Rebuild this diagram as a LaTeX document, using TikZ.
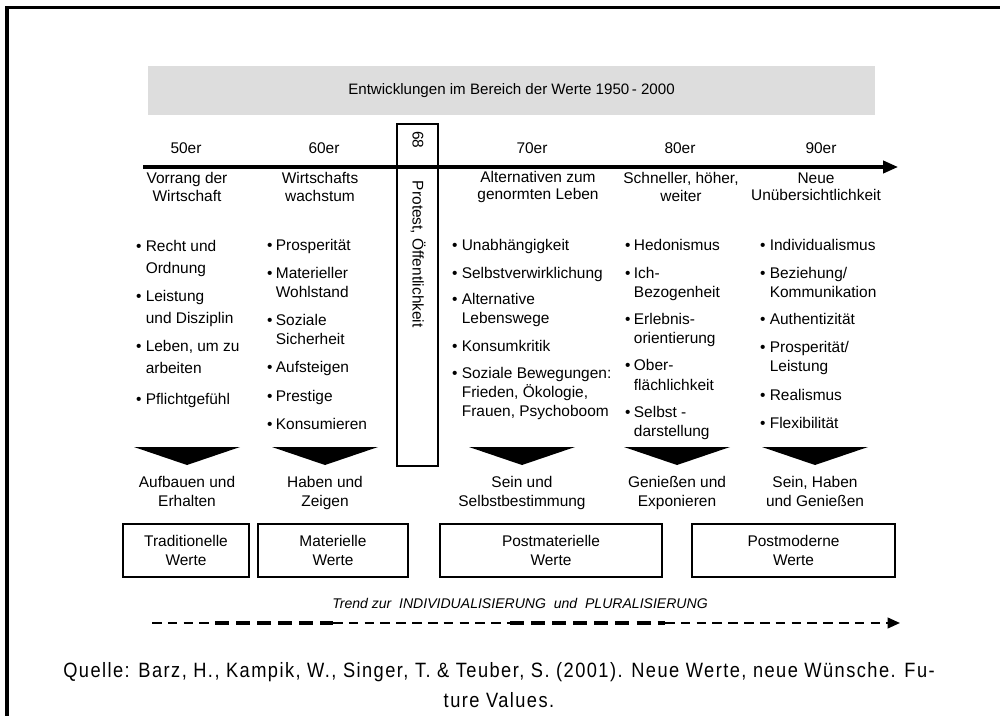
\documentclass[tikz,border=0pt]{standalone}
\usepackage{fontspec}
\setmainfont{Liberation Sans}
\newfontfamily\quellefont[FakeStretch=0.88,LetterSpace=7]{Liberation Sans}
\usepackage{tikz}
\usetikzlibrary{arrows.meta, positioning}
\definecolor{wvgray}{HTML}{DDDDDD}

\begin{document}
\begin{tikzpicture}[
  x=0.02cm, y=-0.02cm,
  every node/.style={inner sep=0pt, outer sep=0pt},
  txt/.style={font=\fontsize{8.8}{9.8}\selectfont, align=center},
  items/.style={anchor=base west, font=\fontsize{8.8}{11}\selectfont},
  wertbox/.style={draw, line width=0.9pt, align=center,
                  minimum height=1.06cm,
                  font=\fontsize{8.8}{10.4}\selectfont},
  zeitachse/.style={line width=1.8pt, -{Triangle[length=8.5pt, width=7pt]}},
  trendthin/.style={line width=1.2pt, dash pattern=on 5.5pt off 3.5pt},
  trendthick/.style={line width=2.3pt, dash pattern=on 8pt off 4pt}
]
  \useasboundingbox (0,0) rectangle (1000,716);
  \draw[line width=2pt] (1000,7.5) -- (7,7.5) -- (7,716);

  \node[fill=wvgray, minimum width=14.54cm, minimum height=0.98cm,
    font=\fontsize{8.6}{10}\selectfont] (titel) at (511.5,90.5)
    {Entwicklungen im Bereich der Werte 1950\,- 2000};

  \node[draw, line width=0.9pt, minimum width=0.82cm,
    minimum height=6.84cm] (b68) at (417.5,295) {};
  \node[txt, rotate=-90] (n68) at (418,140) {68};
  \node[txt, rotate=-90, anchor=west] (protest) at (418,181)
    {Protest, Öffentlichkeit};

  \coordinate (axs) at (143,167);
  \coordinate (axe) at (898,167);
  \draw[zeitachse] (axs) -- (axe);

  \node[txt] (d50) at (186,148) {50er};
  \node[txt] (d60) at (324,148) {60er};
  \node[txt] (d70) at (532,148) {70er};
  \node[txt] (d80) at (680,148) {80er};
  \node[txt] (d90) at (821,148) {90er};

  \node[txt] (h50) at (187,187) {Vorrang der\\Wirtschaft};
  \node[txt] (h60) at (320,187) {Wirtschafts\\wachstum};
  \node[txt] (h70) at (538,187) {Alternativen zum\\genormten Leben};
  \node[txt] (h80) at (681,187) {Schneller, höher,\\weiter};
  \node[txt] (h90) at (816,187) {Neue\\Unübersichtlichkeit};

  \node[items, font=\fontsize{8.8}{12.4}\selectfont] (w50) at (136,252)
    {\begin{tabular}[t]{@{}l@{\hspace{2.5pt}}l@{}}
     \textbullet & Recht und\\ & Ordnung\\[3.5pt]
     \textbullet & Leistung\\ & und Disziplin\\[3.5pt]
     \textbullet & Leben, um zu\\ & arbeiten\\[5.2pt]
     \textbullet & Pflichtgefühl
     \end{tabular}};
  \node[items] (w60) at (267,250)
    {\begin{tabular}[t]{@{}l@{\hspace{2pt}}l@{}}
     \textbullet & Prosperität\\[5pt]
     \textbullet & Materieller\\ & Wohlstand\\[5pt]
     \textbullet & Soziale\\ & Sicherheit\\[5pt]
     \textbullet & Aufsteigen\\[5pt]
     \textbullet & Prestige\\[5pt]
     \textbullet & Konsumieren
     \end{tabular}};
  \node[items] (w70) at (452,250)
    {\begin{tabular}[t]{@{}l@{\hspace{2.5pt}}l@{}}
     \textbullet & Unabhängigkeit\\[5pt]
     \textbullet & Selbstverwirklichung\\[4pt]
     \textbullet & Alternative\\ & Lebenswege\\[5pt]
     \textbullet & Konsumkritik\\[4pt]
     \textbullet & Soziale Bewegungen:\\ & Frieden, Ökologie,\\
                 & Frauen, Psychoboom
     \end{tabular}};
  \node[items] (w80) at (625,250)
    {\begin{tabular}[t]{@{}l@{\hspace{2pt}}l@{}}
     \textbullet & Hedonismus\\[5pt]
     \textbullet & Ich-\\ & Bezogenheit\\[4.4pt]
     \textbullet & Erlebnis-\\ & orientierung\\[4.4pt]
     \textbullet & Ober-\\ & flächlichkeit\\[4.4pt]
     \textbullet & Selbst -\\ & darstellung
     \end{tabular}};
  \node[items] (w90) at (760,250)
    {\begin{tabular}[t]{@{}l@{\hspace{2.5pt}}l@{}}
     \textbullet & Individualismus\\[5pt]
     \textbullet & Beziehung/\\ & Kommunikation\\[4.4pt]
     \textbullet & Authentizität\\[5pt]
     \textbullet & Prosperität/\\ & Leistung\\[5pt]
     \textbullet & Realismus\\[5pt]
     \textbullet & Flexibilität
     \end{tabular}};

  \foreach \cx/\nm in {187/50, 325/60, 522/70, 677/80, 815/90} {
    \fill (\cx-53,447) -- (\cx+53,447) -- (\cx,465) -- cycle;
    \coordinate (tip\nm) at (\cx,465);
  }

  \node[txt, font=\fontsize{8.8}{11.2}\selectfont, below=0.22cm of tip50] (o50)
    {Aufbauen und\\Erhalten};
  \node[txt, font=\fontsize{8.8}{11.2}\selectfont, below=0.22cm of tip60] (o60)
    {Haben und\\Zeigen};
  \node[txt, font=\fontsize{8.8}{11.2}\selectfont, below=0.22cm of tip70] (o70)
    {Sein und\\Selbstbestimmung};
  \node[txt, font=\fontsize{8.8}{11.2}\selectfont, below=0.22cm of tip80] (o80)
    {Genießen und\\Exponieren};
  \node[txt, font=\fontsize{8.8}{11.2}\selectfont, below=0.22cm of tip90] (o90)
    {Sein, Haben\\und Genießen};

  \node[wertbox, minimum width=2.52cm] (trad) at (186,550.5)
    {Traditionelle\\Werte};
  \node[wertbox, minimum width=3.0cm] (mat) at (333,550.5)
    {Materielle\\Werte};
  \node[wertbox, minimum width=4.44cm] (postmat) at (551,550.5)
    {Postmaterielle\\Werte};
  \node[wertbox, minimum width=4.06cm] (postmod) at (793.5,550.5)
    {Postmoderne\\Werte};

  \node[font=\fontsize{8}{10}\selectfont\itshape] (trend) at (520,603)
    {Trend zur\ \ INDIVIDUALISIERUNG\ \ und\ \ PLURALISIERUNG};
  \coordinate (tr0) at (152,623);
  \coordinate (tr1) at (215,623);
  \coordinate (tr2) at (333,623);
  \coordinate (tr3) at (510,623);
  \coordinate (tr4) at (665,623);
  \coordinate (tr5) at (900,623);
  \draw[trendthin] (tr0) -- (tr1);
  \draw[trendthick] (tr1) -- (tr2);
  \draw[trendthin] (tr2) -- (tr3);
  \draw[trendthick] (tr3) -- (tr4);
  \draw[trendthin, -{Triangle[length=7pt, width=6pt]}] (tr4) -- (tr5);

  \node[align=center, font=\quellefont\fontsize{11.8}{17}\selectfont]
    (quelle) at (499,685)
    {Quelle: Barz, H., Kampik, W., Singer, T. \& Teuber, S. (2001). Neue Werte, neue Wünsche. Fu-\\
     ture Values.};
\end{tikzpicture}
\end{document}
